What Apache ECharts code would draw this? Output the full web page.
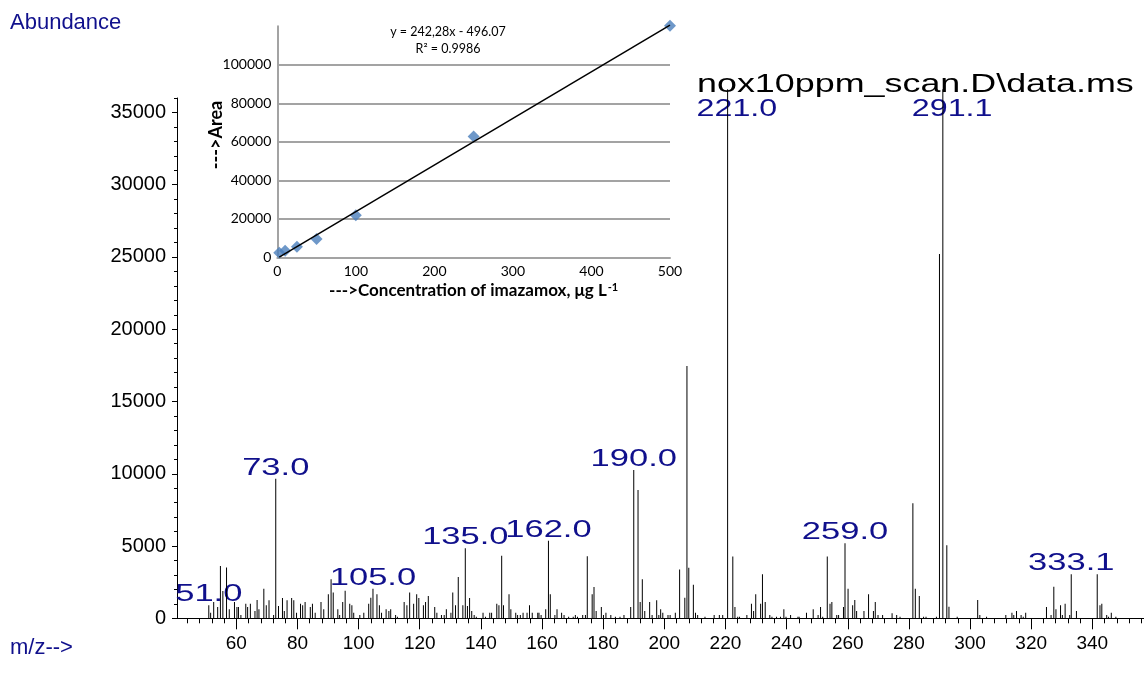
<!DOCTYPE html>
<html><head><meta charset="utf-8">
<script src="https://cdn.jsdelivr.net/npm/echarts@6/dist/echarts.min.js"></script>
<style>html,body{margin:0;padding:0;background:#fff}#c{width:1144px;height:683px}</style>
</head><body><div id="c"></div>
<script>
// ---- main spectrum: m/z and abundance ----
const mz = [
 51.0,51.6,52.6,53.9,54.8,55.6,56.8,57.7,59.4,60.2,
 60.7,61.5,63.1,63.7,64.6,66.1,66.8,67.4,69.0,69.8,
 70.7,72.2,72.9,73.8,75.1,75.7,76.6,78.1,78.8,79.7,
 81.0,81.7,82.5,84.2,84.9,85.8,87.7,88.6,90.1,91.0,
 91.7,93.2,93.8,94.8,95.6,97.1,97.8,98.4,100.4,101.7,
 103.3,104.0,104.7,106.0,106.8,107.5,109.0,109.9,110.5,112.1,
 112.7,114.9,115.8,116.7,118.0,119.0,119.7,121.2,121.9,122.8,
 124.9,125.6,127.1,128.0,128.7,130.2,130.8,131.7,132.6,134.1,
 134.9,135.6,136.3,137.0,137.8,138.5,140.7,141.5,142.9,143.5,
 145.2,145.9,146.8,147.4,149.2,149.8,151.4,152.0,152.9,153.8,
 155.1,155.9,156.8,158.6,159.0,159.7,161.2,162.1,162.7,164.2,
 164.9,166.4,167.2,168.7,170.2,170.9,171.6,173.3,174.2,174.8,
 176.4,177.0,177.7,179.4,180.1,180.9,182.5,184.0,185.5,186.8,
 189.0,190.0,191.4,192.1,192.8,193.6,195.2,196.0,197.5,198.2,
 198.8,199.5,201.2,201.9,203.6,205.0,206.7,207.4,208.0,209.5,
 210.2,210.9,213.3,216.3,218.0,219.1,220.7,222.4,223.1,224.0,
 224.6,227.0,228.5,229.2,229.9,231.5,232.1,233.0,234.5,235.2,
 236.7,238.0,239.1,239.8,241.3,243.7,244.1,246.5,248.7,250.3,
 251.1,251.8,253.3,254.2,254.8,256.4,257.0,258.6,259.1,260.1,
 261.6,262.3,262.9,265.3,266.8,268.4,269.0,269.9,271.4,274.5,
 276.0,277.1,281.3,282.1,283.4,284.8,285.6,289.0,290.0,291.1,
 292.4,293.1,295.8,302.5,303.2,305.4,311.7,313.7,314.3,315.2,
 316.7,317.4,318.2,325.0,326.5,327.4,328.1,329.6,330.2,331.1,
 332.6,333.1,334.8,341.6,342.5,343.1,344.7,345.3,346.2,347.7
];
const abundance = [
 900,390,1130,780,3620,1890,3510,620,1130,780,
 780,230,1015,780,1015,510,1270,620,2050,900,
 1250,230,9650,850,1410,510,1250,1410,1250,390,
 1015,900,1130,780,1015,390,1130,620,1660,2700,
 1780,620,230,1130,1910,1015,900,390,230,390,
 1015,1430,2050,1660,900,390,620,510,620,230,
 115,1130,900,1780,1015,1660,1410,900,1130,1550,
 780,390,230,230,620,390,1780,900,2860,900,
 4840,850,1410,510,230,115,390,115,390,390,
 1015,900,4330,900,1660,620,390,230,230,390,
 390,900,390,390,390,230,620,5370,1660,230,
 620,390,230,115,115,230,115,230,230,4300,
 1660,2170,510,780,230,390,230,115,115,230,
 780,10260,8880,1130,2700,510,1130,230,1250,230,
 620,390,230,230,390,3380,1430,17460,3500,2330,
 390,230,115,230,230,230,36600,4270,780,115,
 115,230,1015,510,1660,1015,3050,1130,230,115,
 115,115,620,115,230,115,115,390,620,230,
 780,115,4270,1015,1130,230,230,780,5200,2050,
 900,1270,510,510,1660,510,1130,230,230,350,
 230,115,7960,2050,1550,115,115,115,25210,36600,
 5050,800,115,1270,230,115,230,390,230,510,
 230,115,390,780,230,2190,620,900,230,1015,
 230,3050,510,3050,900,1015,230,115,390,115
];
// labelled peaks
const labeledMz = [51.0, 72.9, 104.7, 134.9, 162.1, 190.0, 259.1, 333.1];
const labeledText = ['51.0', '73.0', '105.0', '135.0', '162.0', '190.0', '259.0', '333.1'];
const topLabeledMz = [220.7, 291.1];
const topLabeledText = ['221.0', '291.1'];

// tick values
const xMajorTicks = [60,80,100,120,140,160,180,200,220,240,260,280,300,320,340];
const xMinorTicks = [44,48,52,56,60,64,68,72,76,80,84,88,92,96,100,104,108,112,116,120,124,128,132,136,140,144,148,152,156,160,164,168,172,176,180,184,188,192,196,200,204,208,212,216,220,224,228,232,236,240,244,248,252,256,260,264,268,272,276,280,284,288,292,296,300,304,308,312,316,320,324,328,332,336,340,344,348,352,356];
const yMajorTicks = [0,5000,10000,15000,20000,25000,30000,35000];
const yMinorTicks = [1000,2000,3000,4000,5000,6000,7000,8000,9000,10000,11000,12000,13000,14000,15000,16000,17000,18000,19000,20000,21000,22000,23000,24000,25000,26000,27000,28000,29000,30000,31000,32000,33000,34000,35000,36000];

// ---- inset calibration curve ----
const concentration = [2.5, 10, 25, 50, 100, 250, 500];
const area = [2300, 3400, 5500, 9500, 21800, 62700, 120300];
const SLOPE = 242.28, INTERCEPT = -496.07;
const insetXTicks = [0, 100, 200, 300, 400, 500];
const insetYTicks = [0, 20000, 40000, 60000, 80000, 100000];

const NAVY = '#10108c';
const MAINFONT = '"Liberation Sans", Arial, sans-serif';
const INSETFONT = 'Lato, "Open Sans", sans-serif';

const chart = echarts.init(document.getElementById('c'), null, {renderer: 'canvas'});

const spectrumData = mz.map((m, i) => [m, abundance[i]]);
const labelData = labeledMz.map(m => [m, abundance[mz.indexOf(m)]]);
const topLabelData = topLabeledMz.map(m => [m, 36000]);
const trendX0 = concentration[0], trendX1 = concentration[concentration.length - 1];
const trendData = [[trendX0, SLOPE * trendX0 + INTERCEPT], [trendX1, SLOPE * trendX1 + INTERCEPT]];

const option = {
  animation: false,
  backgroundColor: '#fff',
  grid: [
    {left: 177, right: 0, top: 98, bottom: 64.7, containLabel: false},
    {left: 277.3, top: 26.3, width: 392.7, height: 231, containLabel: false}
  ],
  xAxis: [
    {type: 'value', gridIndex: 0, min: 40.6, max: 356.9, position: 'bottom',
     axisLine: {show: true, onZero: false, lineStyle: {color: '#000', width: 1}},
     axisTick: {show: true, customValues: xMajorTicks, length: 11, lineStyle: {color: '#000', width: 1}},
     axisLabel: {customValues: xMajorTicks, fontSize: 19, color: '#000', fontFamily: MAINFONT, margin: 16,
       formatter: v => String(v)},
     splitLine: {show: false}},
    {type: 'value', gridIndex: 0, min: 40.6, max: 356.9, position: 'bottom',
     axisLine: {show: false, onZero: false},
     axisTick: {show: true, customValues: xMinorTicks, length: 5, lineStyle: {color: '#000', width: 1}},
     axisLabel: {show: false}, splitLine: {show: false}},
    {type: 'value', gridIndex: 1, min: 0, max: 500, position: 'bottom',
     axisLine: {show: true, onZero: false, lineStyle: {color: '#a3a3a3', width: 2}},
     axisTick: {show: false},
     axisLabel: {customValues: insetXTicks, fontSize: 14, color: '#000', fontFamily: INSETFONT, margin: 7,
       formatter: v => String(v)},
     splitLine: {show: false},
     name: '--->Concentration of imazamox, μg L{sup|-1}', nameLocation: 'middle', nameGap: 25,
     nameTextStyle: {fontFamily: INSETFONT, fontWeight: 'bold', fontSize: 17, color: '#000',
       rich: {sup: {fontFamily: INSETFONT, fontWeight: 'bold', fontSize: 11, color: '#000', verticalAlign: 'top', padding: [0, 0, 6, 1]}}}}
  ],
  yAxis: [
    {type: 'value', gridIndex: 0, min: 0, max: 36000, position: 'left',
     axisLine: {show: true, onZero: false, lineStyle: {color: '#000', width: 1}},
     axisTick: {show: true, customValues: yMajorTicks, length: 5, lineStyle: {color: '#000', width: 1}},
     axisLabel: {customValues: yMajorTicks, fontSize: 20, color: '#000', fontFamily: MAINFONT, margin: 11,
       formatter: v => String(v)},
     splitLine: {show: false}},
    {type: 'value', gridIndex: 0, min: 0, max: 36000, position: 'left',
     axisLine: {show: false, onZero: false},
     axisTick: {show: true, customValues: yMinorTicks, length: 3, lineStyle: {color: '#000', width: 1}},
     axisLabel: {show: false}, splitLine: {show: false}},
    {type: 'value', gridIndex: 1, min: 0, max: 120000, interval: 20000, position: 'left',
     axisLine: {show: true, onZero: false, lineStyle: {color: '#a3a3a3', width: 2}},
     axisTick: {show: false},
     axisLabel: {customValues: insetYTicks, fontSize: 14, color: '#000', fontFamily: INSETFONT, margin: 6,
       formatter: v => String(v)},
     splitLine: {show: true, showMinLine: false, showMaxLine: false, lineStyle: {color: '#a3a3a3', width: 2}}}
  ],
  series: [
    {type: 'bar', xAxisIndex: 0, yAxisIndex: 0, data: spectrumData, barWidth: 1,
     itemStyle: {color: '#000'}, clip: false, silent: true},
    {type: 'custom', xAxisIndex: 0, yAxisIndex: 0, data: labelData, clip: false, silent: true,
     renderItem: (params, api) => {
       const p = api.coord([api.value(0), api.value(1)]);
       return {type: 'text', x: p[0], y: p[1] - 10.5, scaleX: 1.5,
         style: {text: labeledText[params.dataIndex], fill: NAVY, fontSize: 23, fontFamily: MAINFONT,
                 align: 'center', verticalAlign: 'middle'}};
     }},
    {type: 'custom', xAxisIndex: 0, yAxisIndex: 0, data: topLabelData, clip: false, silent: true,
     renderItem: (params, api) => {
       const p = api.coord([api.value(0), api.value(1)]);
       return {type: 'text', x: p[0] - 31, y: p[1] + 12, scaleX: 1.4,
         style: {text: topLabeledText[params.dataIndex], fill: NAVY, fontSize: 23, fontFamily: MAINFONT,
                 align: 'left', verticalAlign: 'middle'}};
     }},
    {type: 'scatter', xAxisIndex: 2, yAxisIndex: 2,
     data: concentration.map((c, i) => [c, area[i]]),
     symbol: 'diamond', symbolSize: 12, itemStyle: {color: '#4a7ebb'}, z: 3, clip: false},
    {type: 'line', xAxisIndex: 2, yAxisIndex: 2, data: trendData, showSymbol: false, symbol: 'none',
     lineStyle: {color: '#000', width: 1.5}, z: 4, clip: false}
  ],
  graphic: [
    {type: 'text', x: 10, y: 23, style: {text: 'Abundance', fill: NAVY, fontSize: 22, fontFamily: MAINFONT, align: 'left', verticalAlign: 'middle'}},
    {type: 'text', x: 10, y: 648, style: {text: 'm/z-->', fill: NAVY, fontSize: 22, fontFamily: MAINFONT, align: 'left', verticalAlign: 'middle'}},
    {type: 'text', x: 697, y: 85, scaleX: 1.38, style: {text: 'nox10ppm_scan.D\\data.ms', fill: '#000', fontSize: 26, fontFamily: MAINFONT, align: 'left', verticalAlign: 'middle'}},
    {type: 'text', x: 448, y: 32, style: {text: 'y = 242,28x - 496.07', fill: '#000', fontSize: 12.5, fontFamily: INSETFONT, align: 'center', verticalAlign: 'middle'}},
    {type: 'text', x: 448, y: 49, style: {text: 'R² = 0.9986', fill: '#000', fontSize: 12.5, fontFamily: INSETFONT, align: 'center', verticalAlign: 'middle'}},
    {type: 'text', x: 216, y: 135, rotation: Math.PI / 2, style: {text: '--->Area', fill: '#000', fontSize: 18, fontWeight: 'bold', fontFamily: INSETFONT, align: 'center', verticalAlign: 'middle'}}
  ]
};
chart.setOption(option);
</script>
</body></html>
